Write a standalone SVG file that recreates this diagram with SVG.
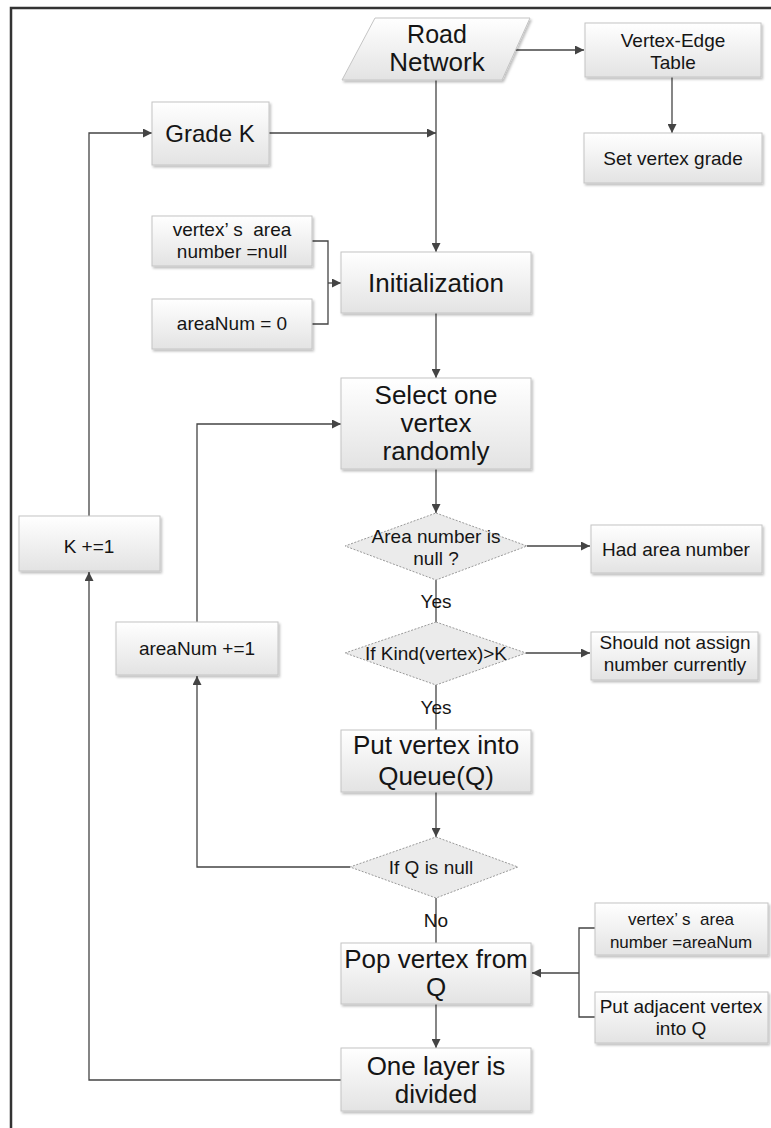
<svg xmlns="http://www.w3.org/2000/svg" width="771" height="1128" viewBox="0 0 771 1128">
<style>
.box{fill:url(#g);stroke:#c4c4c4;stroke-width:1;filter:url(#sh)}
.dia{fill:#ebebeb;stroke:#9a9a9a;stroke-width:1;stroke-dasharray:2 1.5}
.t{font-family:"Liberation Sans",Arial,sans-serif;fill:#151515;text-anchor:middle}
.big{font-size:26px}
.mid{font-size:19px}
.sm{font-size:17px}
.lab{font-size:19px}
.ln{fill:none;stroke:#444;stroke-width:1.3}
</style>
<defs>
<linearGradient id="g" x1="0" y1="0" x2="0" y2="1">
<stop offset="0" stop-color="#ffffff"/>
<stop offset="1" stop-color="#e3e3e3"/>
</linearGradient>
<filter id="sh" x="-10%" y="-10%" width="125%" height="130%">
<feDropShadow dx="1.5" dy="2" stdDeviation="1" flood-color="#000" flood-opacity="0.25"/>
</filter>
<marker id="a" viewBox="0 0 10 10" refX="10" refY="5" markerWidth="9" markerHeight="9" markerUnits="userSpaceOnUse" orient="auto">
<path d="M0,0 L10,5 L0,10 z" fill="#444"/>
</marker>
</defs>
<rect width="771" height="1128" fill="#fff"/>
<path d="M11,1128 V8 H771" fill="none" stroke="#333" stroke-width="2.5"/>

<g id="connectors">
<path class="ln" d="M515,50 H584" marker-end="url(#a)"/>
<path class="ln" d="M672,77 V133" marker-end="url(#a)"/>
<path class="ln" d="M436,80 V252" marker-end="url(#a)"/>
<path class="ln" d="M269,133 H436" marker-end="url(#a)"/>
<path class="ln" d="M89,516 V133 H152" marker-end="url(#a)"/>
<path class="ln" d="M312,241 H328 V324 H312"/>
<path class="ln" d="M328,283 H341" marker-end="url(#a)"/>
<path class="ln" d="M436,313 V378" marker-end="url(#a)"/>
<path class="ln" d="M436,469 V513" marker-end="url(#a)"/>
<path class="ln" d="M527,546 H590" marker-end="url(#a)"/>
<path class="ln" d="M436,580 V622"/>
<path class="ln" d="M526,653 H590" marker-end="url(#a)"/>
<path class="ln" d="M436,685 V730"/>
<path class="ln" d="M436,792 V837" marker-end="url(#a)"/>
<path class="ln" d="M350,867 H197 V676" marker-end="url(#a)"/>
<path class="ln" d="M197,622 V424 H341" marker-end="url(#a)"/>
<path class="ln" d="M436,898 V943"/>
<path class="ln" d="M595,928 H579 V1017 H595"/>
<path class="ln" d="M579,973 H532" stroke-width="2" marker-end="url(#a)"/>
<path class="ln" d="M436,1004 V1048" marker-end="url(#a)"/>
<path class="ln" d="M341,1080 H89 V572" marker-end="url(#a)"/>
</g>

<g id="road-network">
<polygon class="box" points="375,18 530,18 502,80 342,80"/>
<text class="t" x="437" y="43" font-size="25">Road</text>
<text class="t" x="437" y="71" font-size="26">Network</text>
</g>
<g id="vertex-edge-table">
<rect class="box" x="585" y="23" width="176" height="54"/>
<text class="t mid" x="673" y="47">Vertex-Edge</text>
<text class="t mid" x="673" y="69">Table</text>
</g>
<g id="set-vertex-grade">
<rect class="box" x="584" y="133" width="178" height="50"/>
<text class="t mid" x="673" y="165">Set vertex grade</text>
</g>
<g id="grade-k">
<rect class="box" x="152" y="102" width="117" height="63"/>
<text class="t" x="210" y="142" font-size="24">Grade K</text>
</g>
<g id="vertex-area-null">
<rect class="box" x="152" y="216" width="160" height="50"/>
<text class="t mid" x="232" y="236" xml:space="preserve">vertex’ s  area</text>
<text class="t mid" x="232" y="258">number =null</text>
</g>
<g id="areanum-0">
<rect class="box" x="152" y="299" width="160" height="50"/>
<text class="t mid" x="232" y="330">areaNum = 0</text>
</g>
<g id="initialization">
<rect class="box" x="341" y="252" width="190" height="61"/>
<text class="t big" x="436" y="292">Initialization</text>
</g>
<g id="select-vertex">
<rect class="box" x="341" y="378" width="190" height="91"/>
<text class="t big" x="436" y="404">Select one</text>
<text class="t big" x="436" y="432">vertex</text>
<text class="t big" x="436" y="460">randomly</text>
</g>
<g id="area-number-null">
<polygon class="dia" points="436,513 527,546 436,580 345,546"/>
<text class="t mid" x="436" y="543">Area number is</text>
<text class="t mid" x="436" y="565">null ?</text>
</g>
<g id="had-area-number">
<rect class="box" x="591" y="525" width="171" height="48"/>
<text class="t mid" x="676" y="556">Had area number</text>
</g>
<g id="k-plus">
<rect class="box" x="19" y="516" width="141" height="55"/>
<text class="t mid" x="89" y="553">K +=1</text>
</g>
<text class="t lab" x="436" y="608">Yes</text>
<g id="kind-vertex">
<polygon class="dia" points="436,622 526,653 436,685 345,653"/>
<text class="t mid" x="436" y="660">If Kind(vertex)&gt;K</text>
</g>
<g id="should-not-assign">
<rect class="box" x="591" y="632" width="167" height="48"/>
<text class="t mid" x="675" y="649">Should not assign</text>
<text class="t mid" x="675" y="671">number currently</text>
</g>
<g id="areanum-plus">
<rect class="box" x="116" y="622" width="162" height="53"/>
<text class="t mid" x="197" y="655">areaNum +=1</text>
</g>
<text class="t lab" x="436" y="714">Yes</text>
<g id="put-vertex-queue">
<rect class="box" x="341" y="730" width="190" height="62"/>
<text class="t big" x="436" y="754">Put vertex into</text>
<text class="t big" x="436" y="785">Queue(Q)</text>
</g>
<g id="q-null">
<polygon class="dia" points="436,837 518,867 436,898 350,867"/>
<text class="t mid" x="431" y="874">If Q is null</text>
</g>
<text class="t lab" x="436" y="927">No</text>
<g id="vertex-area-areanum">
<rect class="box" x="595" y="903" width="173" height="52"/>
<text class="t sm" x="681" y="925" xml:space="preserve">vertex’ s  area</text>
<text class="t sm" x="681" y="948">number =areaNum</text>
</g>
<g id="pop-vertex">
<rect class="box" x="341" y="943" width="190" height="61"/>
<text class="t big" x="436" y="968">Pop vertex from</text>
<text class="t big" x="436" y="996">Q</text>
</g>
<g id="put-adjacent">
<rect class="box" x="595" y="992" width="173" height="51"/>
<text class="t mid" x="681" y="1013">Put adjacent vertex</text>
<text class="t mid" x="681" y="1035">into Q</text>
</g>
<g id="one-layer">
<rect class="box" x="341" y="1048" width="190" height="63"/>
<text class="t big" x="436" y="1075">One layer is</text>
<text class="t big" x="436" y="1103">divided</text>
</g>
</svg>
